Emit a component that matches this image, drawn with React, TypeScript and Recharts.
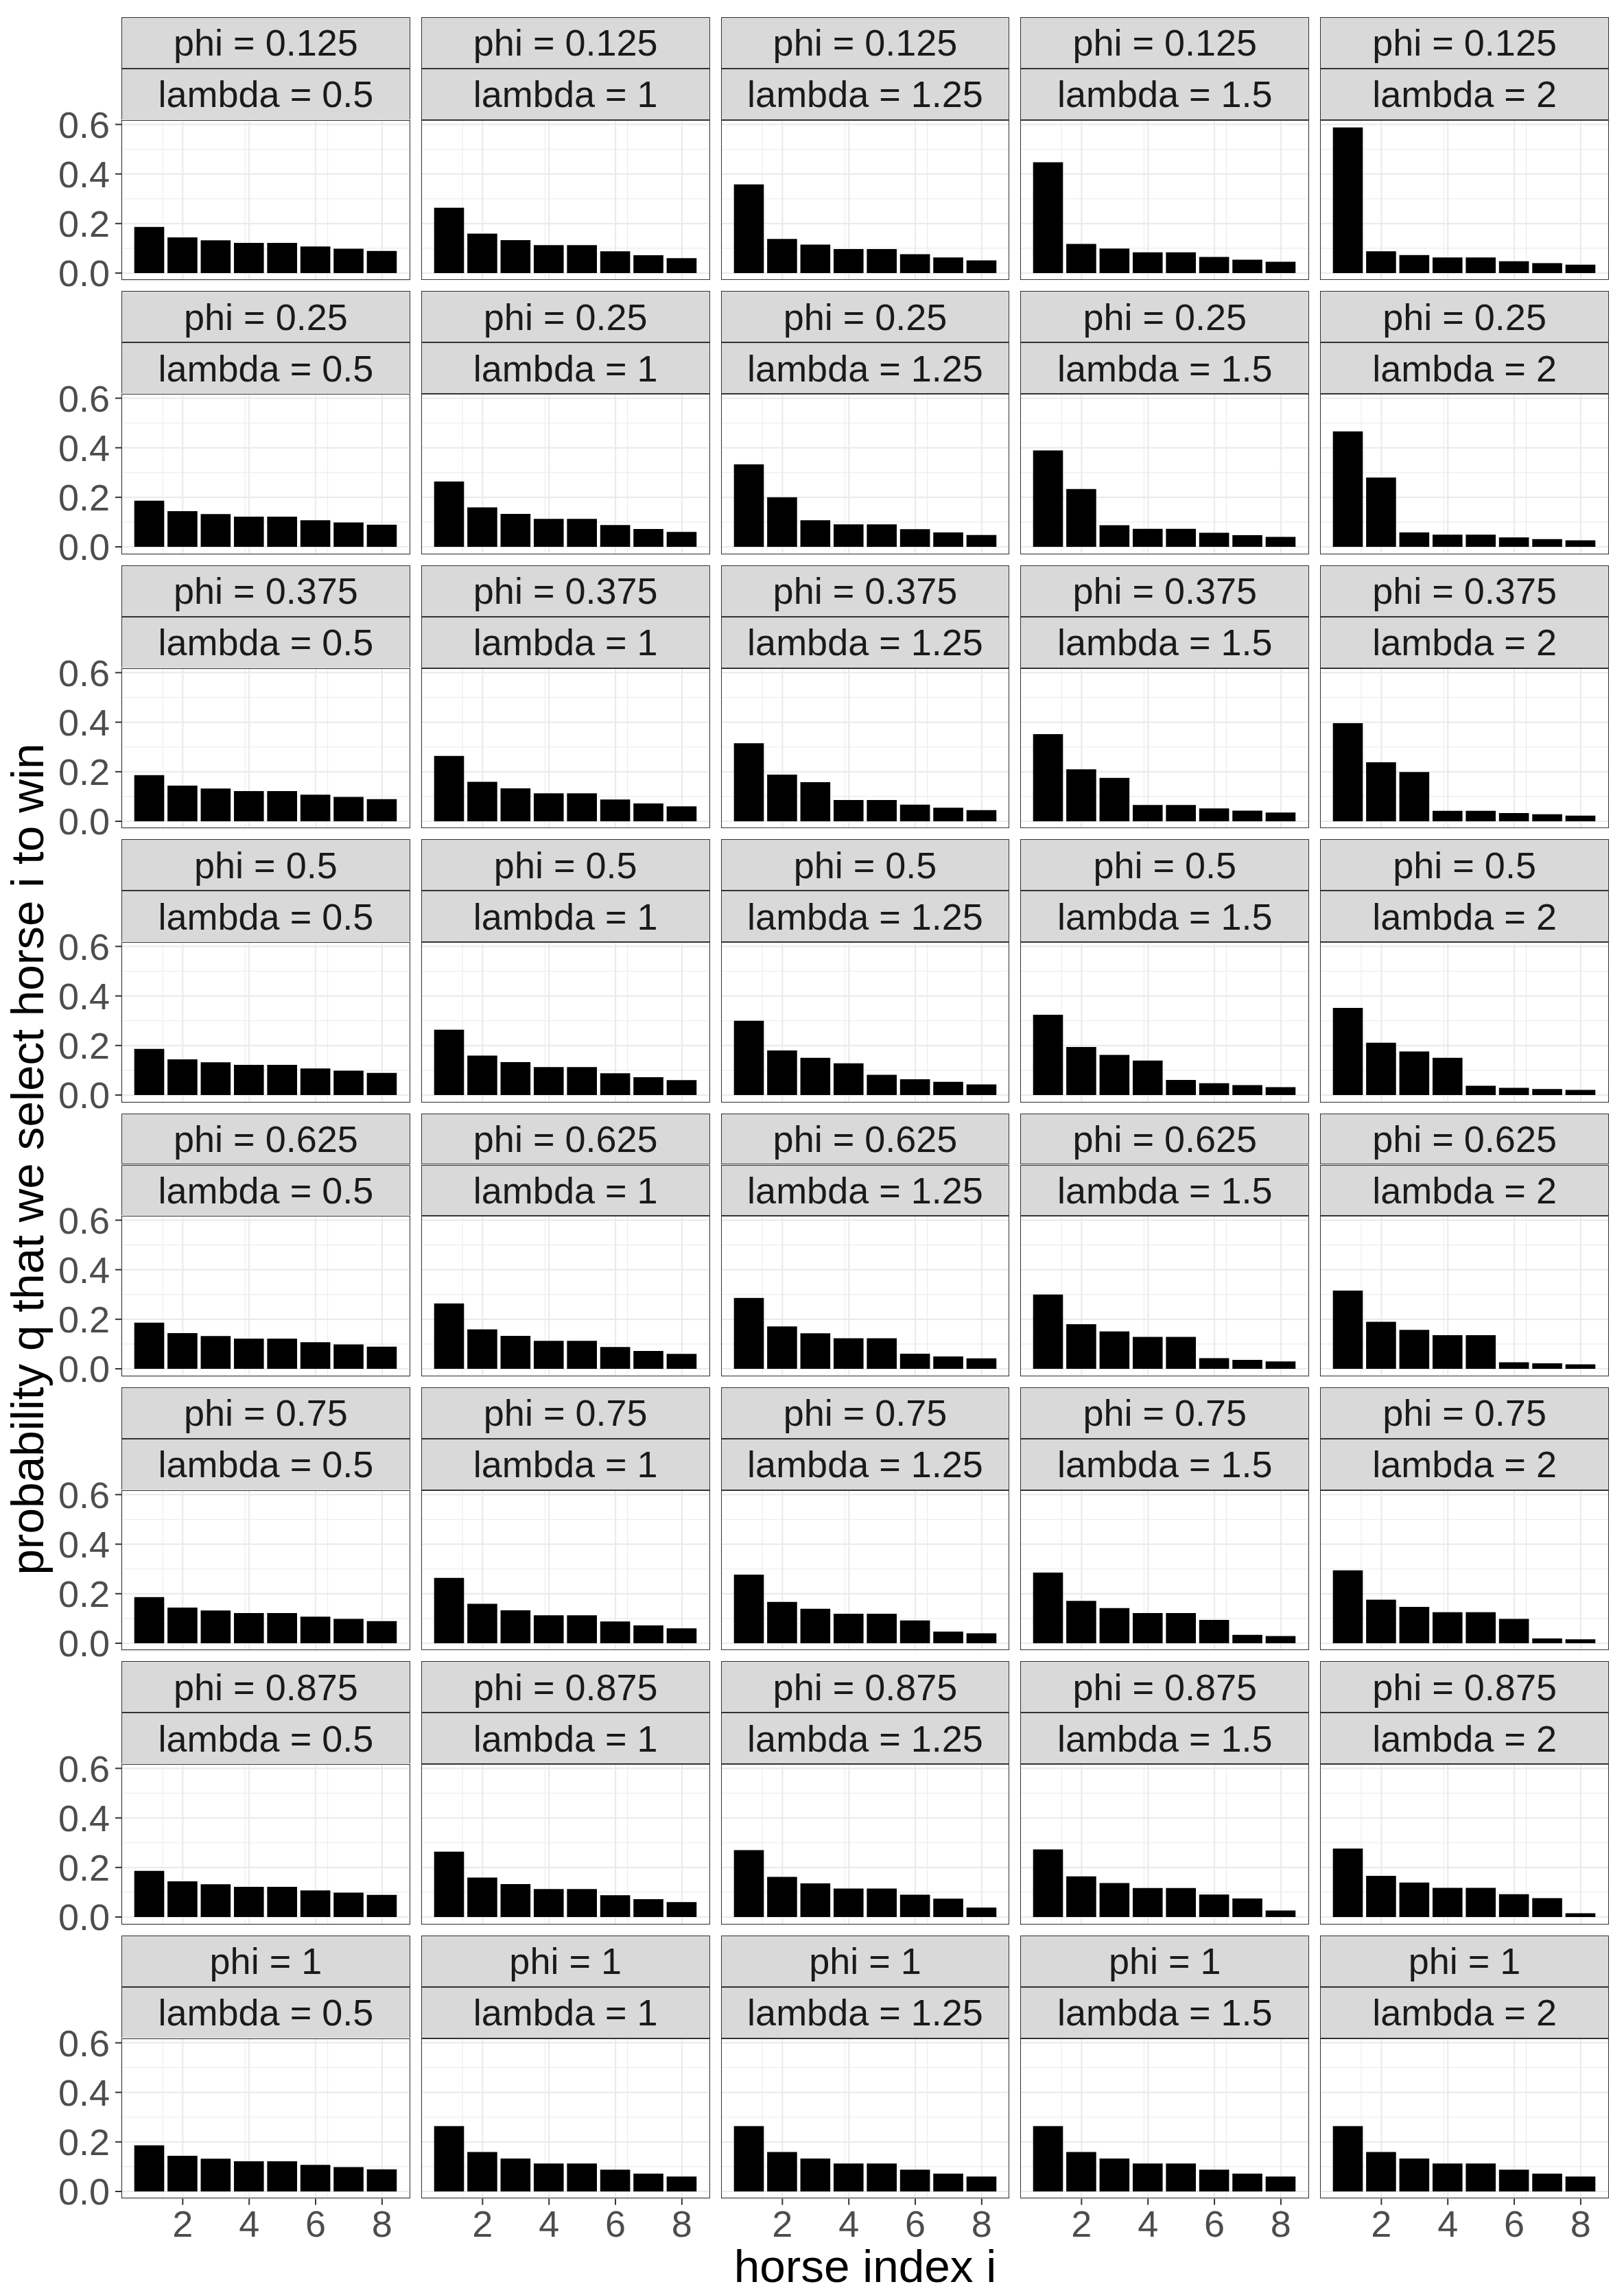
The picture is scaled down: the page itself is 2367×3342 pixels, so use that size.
import { Bar, BarChart, CartesianGrid, XAxis, YAxis } from 'recharts';

// horse index on the x axis, one facet per (phi, lambda)
const horses = [1, 2, 3, 4, 5, 6, 7, 8];
const phiLabels = ['0.125', '0.25', '0.375', '0.5', '0.625', '0.75', '0.875', '1'];
const lambdaLabels = ['0.5', '1', '1.25', '1.5', '2'];
const xTicks = [2, 4, 6, 8];
const xMinorTicks = [1, 3, 5, 7];
const yTicks = [0, 0.2, 0.4, 0.6];
const yMinorTicks = [0.1, 0.3, 0.5];

// the lambda = 0.5 and lambda = 1 columns are the same for every phi
const lambda05 = [0.186, 0.144, 0.132, 0.122, 0.122, 0.107, 0.098, 0.089];
const lambda1 = [0.264, 0.159, 0.133, 0.113, 0.113, 0.088, 0.072, 0.06];

const phi0125 = [
  lambda05,
  lambda1,
  [0.358, 0.138, 0.115, 0.097, 0.097, 0.076, 0.063, 0.051],
  [0.447, 0.118, 0.099, 0.084, 0.084, 0.065, 0.054, 0.046],
  [0.588, 0.088, 0.073, 0.063, 0.063, 0.048, 0.04, 0.034],
];
const phi025 = [
  lambda05,
  lambda1,
  [0.333, 0.2, 0.107, 0.091, 0.091, 0.071, 0.058, 0.048],
  [0.389, 0.233, 0.087, 0.073, 0.073, 0.057, 0.047, 0.04],
  [0.466, 0.28, 0.058, 0.049, 0.049, 0.038, 0.031, 0.026],
];
const phi0375 = [
  lambda05,
  lambda1,
  [0.315, 0.188, 0.158, 0.086, 0.086, 0.067, 0.055, 0.045],
  [0.352, 0.21, 0.175, 0.066, 0.066, 0.052, 0.043, 0.035],
  [0.396, 0.238, 0.199, 0.042, 0.042, 0.033, 0.028, 0.023],
];
const phi05 = [
  lambda05,
  lambda1,
  [0.3, 0.18, 0.15, 0.128, 0.082, 0.064, 0.053, 0.043],
  [0.324, 0.194, 0.162, 0.139, 0.061, 0.048, 0.04, 0.032],
  [0.352, 0.211, 0.176, 0.15, 0.037, 0.029, 0.024, 0.021],
];
const phi0625 = [
  lambda05,
  lambda1,
  [0.286, 0.171, 0.143, 0.123, 0.123, 0.061, 0.05, 0.042],
  [0.3, 0.18, 0.151, 0.129, 0.129, 0.043, 0.036, 0.03],
  [0.316, 0.19, 0.157, 0.136, 0.136, 0.026, 0.022, 0.018],
];
const phi075 = [
  lambda05,
  lambda1,
  [0.277, 0.167, 0.139, 0.119, 0.119, 0.092, 0.047, 0.04],
  [0.285, 0.171, 0.142, 0.122, 0.122, 0.094, 0.034, 0.029],
  [0.294, 0.176, 0.147, 0.125, 0.125, 0.098, 0.019, 0.016],
];
const phi0875 = [
  lambda05,
  lambda1,
  [0.27, 0.162, 0.136, 0.115, 0.115, 0.09, 0.074, 0.038],
  [0.273, 0.164, 0.137, 0.117, 0.117, 0.091, 0.075, 0.026],
  [0.276, 0.166, 0.139, 0.118, 0.118, 0.092, 0.076, 0.015],
];
const phi1 = [lambda05, lambda1, lambda1, lambda1, lambda1];

const rows = [phi0125, phi025, phi0375, phi05, phi0625, phi075, phi0875, phi1];

// layout (px)
const LEFT = 177;
const TOP = 25;
const PW = 420.8;
const COL_STEP = 436.8;
const ROW_STEP = 399.4;
const STRIP = 74.9;
const PH = 233.6;
const YW = 177;
const XH = 80;
const PAD = 40; // room above/below the plot so the 0.6 and 0.0 labels are not clipped
const FONT = '"Liberation Sans", Arial, Helvetica, sans-serif';
const xDomain: [number, number] = [0.155, 8.845];
const yDomain: [number, number] = [-0.0294, 0.6177];

const stripStyle = {
  position: 'absolute' as const,
  width: PW,
  height: STRIP,
  boxSizing: 'border-box' as const,
  background: '#D9D9D9',
  border: '1.5px solid #333333',
  display: 'flex',
  alignItems: 'center',
  justifyContent: 'center',
  fontSize: 54,
  color: '#1A1A1A',
};

function Panel({ r, c, values }: { r: number; c: number; values: number[] }) {
  const data = horses.map((i, k) => ({ i, q: values[k] }));
  const showY = c === 0;
  const showX = r === rows.length - 1;
  const left = LEFT + c * COL_STEP;
  const top = TOP + r * ROW_STEP;
  const plotTop = top + 2 * STRIP;
  const mTop = showY ? PAD : 0;
  const mBottom = showY && !showX ? PAD : 0;
  return (
    <>
      <div style={{ ...stripStyle, left, top }}>phi = {phiLabels[r]}</div>
      <div style={{ ...stripStyle, left, top: top + STRIP }}>lambda = {lambdaLabels[c]}</div>
      <div style={{ position: 'absolute', left: showY ? 0 : left, top: plotTop - mTop }}>
        <BarChart
          width={PW + (showY ? YW : 0)}
          height={PH + (showX ? XH : 0) + mTop + mBottom}
          data={data}
          margin={{ top: mTop, right: 0, bottom: mBottom, left: 0 }}
        >
          <CartesianGrid xAxisId="minor" yAxisId="minor" stroke="#EBEBEB" strokeWidth={1.1} />
          <CartesianGrid stroke="#EBEBEB" strokeWidth={2.2} />
          <XAxis
            dataKey="i"
            type="number"
            domain={xDomain}
            allowDataOverflow
            ticks={xTicks}
            interval={0}
            hide={!showX}
            height={XH}
            tickSize={9}
            tickMargin={8}
            axisLine={false}
            tickLine={{ stroke: '#333333', strokeWidth: 2 }}
            tick={{ fontSize: 54, fill: '#4D4D4D' }}
          />
          <XAxis xAxisId="minor" type="number" domain={xDomain} allowDataOverflow ticks={xMinorTicks} hide />
          <YAxis
            type="number"
            domain={yDomain}
            allowDataOverflow
            ticks={yTicks}
            interval={0}
            hide={!showY}
            width={YW}
            tickSize={9}
            tickMargin={8}
            axisLine={false}
            tickLine={{ stroke: '#333333', strokeWidth: 2 }}
            tick={{ fontSize: 54, fill: '#4D4D4D' }}
            tickFormatter={(v: number) => v.toFixed(1)}
          />
          <YAxis yAxisId="minor" type="number" domain={yDomain} allowDataOverflow ticks={yMinorTicks} hide />
          <Bar dataKey="q" fill="#000000" barSize={43.6} isAnimationActive={false} />
        </BarChart>
      </div>
      <div
        style={{
          position: 'absolute',
          left,
          top: plotTop,
          width: PW,
          height: PH,
          boxSizing: 'border-box',
          border: '1.5px solid #333333',
          pointerEvents: 'none',
        }}
      />
    </>
  );
}

export default function App() {
  return (
    <div
      style={{
        position: 'absolute',
        left: 0,
        top: 0,
        width: 2367,
        height: 3342,
        background: '#FFFFFF',
        fontFamily: FONT,
        overflow: 'hidden',
      }}
    >
      {rows.map((row, r) =>
        row.map((values, c) => <Panel key={`${r}-${c}`} r={r} c={c} values={values} />)
      )}
      <svg
        width={2367}
        height={3342}
        style={{ position: 'absolute', left: 0, top: 0, pointerEvents: 'none' }}
      >
        <text x={1261} y={3326} textAnchor="middle" fontSize={67.5} fill="#000000">
          horse index i
        </text>
        <text
          x={63}
          y={1689.5}
          textAnchor="middle"
          fontSize={67.5}
          fill="#000000"
          transform="rotate(-90 63 1689.5)"
        >
          probability q that we select horse i to win
        </text>
      </svg>
    </div>
  );
}
